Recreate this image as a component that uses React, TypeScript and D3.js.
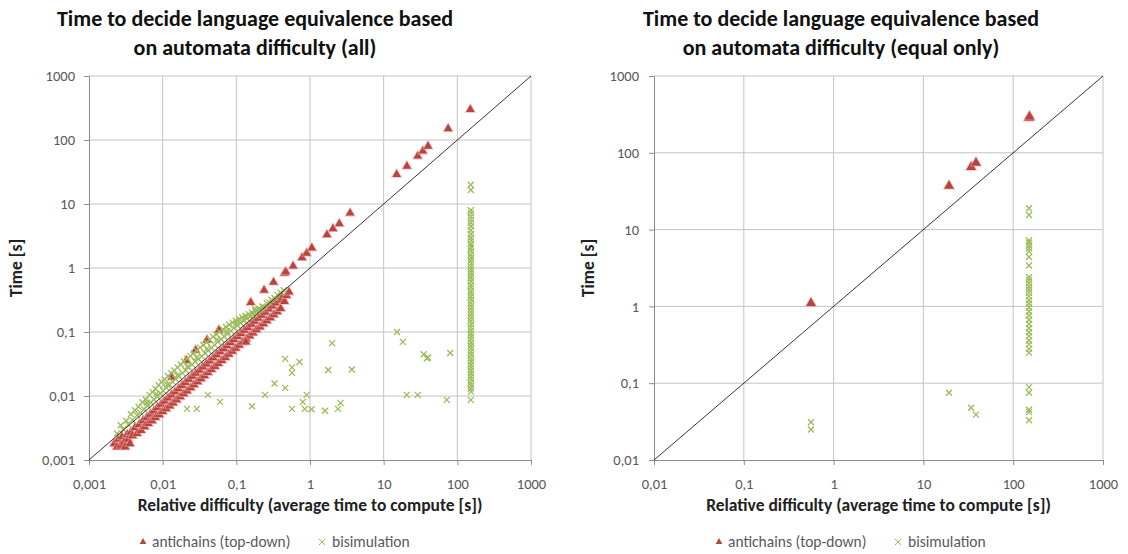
import React, { useRef, useEffect } from "react";
import * as d3 from "d3";

type Pt = [number, number];

// ---- data ----
const ticksAll = [0.001, 0.01, 0.1, 1, 10, 100, 1000];
const ticksEqual = [0.01, 0.1, 1, 10, 100, 1000];

const seriesNames = ["antichains (top-down)", "bisimulation"];

// left chart: antichains, main band under the diagonal
const antichainsAllBand: Pt[] = [
  [0.0022, 0.0018], [0.0024, 0.0016], [0.0025, 0.0021], [0.0027, 0.0017], [0.0028, 0.0023],
  [0.003, 0.0019], [0.0031, 0.0016], [0.0033, 0.0025], [0.0034, 0.0021], [0.0036, 0.0018],
  [0.0037, 0.0027], [0.0039, 0.0024], [0.0042, 0.0032], [0.0045, 0.0026], [0.0048, 0.0036],
  [0.0051, 0.0029], [0.0054, 0.0041], [0.0057, 0.0033], [0.0061, 0.0046], [0.0064, 0.0037],
  [0.0068, 0.0052], [0.0072, 0.0041], [0.0076, 0.0058], [0.008, 0.0046], [0.0085, 0.0066],
  [0.009, 0.0051], [0.0095, 0.0074], [0.01, 0.0057], [0.0106, 0.0083], [0.0112, 0.0063],
  [0.0118, 0.0093], [0.0125, 0.007], [0.0132, 0.0104], [0.0139, 0.0078], [0.0147, 0.0116],
  [0.0155, 0.0087], [0.0164, 0.013], [0.0173, 0.0097], [0.0183, 0.0146], [0.0193, 0.0108],
  [0.0204, 0.0163], [0.0215, 0.012], [0.0227, 0.0182], [0.024, 0.0134], [0.0253, 0.0203],
  [0.0267, 0.015], [0.0282, 0.0227], [0.0298, 0.0167], [0.0315, 0.0253], [0.0332, 0.0186],
  [0.0351, 0.0283], [0.037, 0.0208], [0.0391, 0.0316], [0.0413, 0.0232], [0.0436, 0.0353],
  [0.046, 0.0259], [0.0486, 0.0394], [0.0513, 0.0289], [0.0541, 0.044], [0.0571, 0.0322],
  [0.0603, 0.0491], [0.0637, 0.036], [0.0672, 0.0548], [0.071, 0.0401], [0.0749, 0.0612],
  [0.0791, 0.0448], [0.0835, 0.0683], [0.0882, 0.05], [0.0931, 0.0762], [0.0983, 0.0558],
  [0.1038, 0.085], [0.1095, 0.0623], [0.1156, 0.095], [0.1221, 0.0695], [0.1289, 0.106],
  [0.1361, 0.0776], [0.1437, 0.118], [0.1517, 0.0866], [0.16, 0.132], [0.169, 0.0967],
  [0.178, 0.147], [0.188, 0.108], [0.199, 0.164], [0.21, 0.12], [0.222, 0.183],
  [0.234, 0.134], [0.247, 0.204], [0.26, 0.15], [0.275, 0.228], [0.29, 0.167],
  [0.306, 0.254], [0.323, 0.186], [0.341, 0.283], [0.36, 0.208], [0.38, 0.316],
  [0.4, 0.232], [0.42, 0.35], [0.45, 0.3], [0.48, 0.37], [0.52, 0.42], [0.135, 0.07],
];

// left chart: antichains, slower cases above the diagonal
const antichainsAllUpper: Pt[] = [
  [0.0134, 0.0197], [0.021, 0.036], [0.028, 0.052], [0.04, 0.075], [0.058, 0.107],
  [0.157, 0.29], [0.238, 0.45], [0.32, 0.6], [0.45, 0.83], [0.47, 0.87], [0.59, 1.07],
  [0.78, 1.45], [0.9, 1.7], [1.06, 2.05], [1.7, 3.3], [2.05, 4.1], [2.5, 4.9], [3.5, 7.2],
  [15, 29], [20.7, 39], [29, 56], [34, 67], [40, 80], [75, 150], [150, 300],
];

// left chart: bisimulation band around the diagonal
const bisimulationAllBand: Pt[] = [
  [0.0024, 0.0026], [0.0027, 0.0035], [0.0029, 0.003], [0.0032, 0.0041], [0.0034, 0.0036],
  [0.0037, 0.0052], [0.0039, 0.0042], [0.0042, 0.006], [0.0045, 0.005], [0.0047, 0.0068],
  [0.005, 0.0055], [0.0053, 0.008], [0.0056, 0.0062], [0.0059, 0.0088], [0.0062, 0.0071],
  [0.0066, 0.0104], [0.0069, 0.0079], [0.0073, 0.0115], [0.0076, 0.0088], [0.008, 0.013],
  [0.0084, 0.0098], [0.0088, 0.0148], [0.0092, 0.011], [0.0097, 0.0165], [0.0102, 0.0121],
  [0.0107, 0.0182], [0.0112, 0.0135], [0.0118, 0.0205], [0.0124, 0.015], [0.013, 0.0228],
  [0.0137, 0.0166], [0.0144, 0.025], [0.0151, 0.0185], [0.0159, 0.028], [0.0167, 0.0205],
  [0.0176, 0.031], [0.0185, 0.0228], [0.0195, 0.0345], [0.0205, 0.0252], [0.0215, 0.038],
  [0.0226, 0.028], [0.0238, 0.042], [0.025, 0.031], [0.0263, 0.0465], [0.0277, 0.0345],
  [0.0291, 0.0515], [0.0306, 0.038], [0.0322, 0.057], [0.0339, 0.042], [0.0356, 0.0625],
  [0.0375, 0.0465], [0.0394, 0.069], [0.0415, 0.0515], [0.0436, 0.076], [0.0459, 0.057],
  [0.0483, 0.084], [0.0508, 0.063], [0.0534, 0.092], [0.0562, 0.07], [0.0591, 0.101],
  [0.0622, 0.077], [0.0654, 0.11], [0.0688, 0.085], [0.0724, 0.12], [0.0762, 0.094],
  [0.0802, 0.13], [0.0843, 0.104], [0.0887, 0.14], [0.0933, 0.115], [0.0982, 0.15],
  [0.1033, 0.126], [0.1087, 0.16], [0.1143, 0.138], [0.1203, 0.17], [0.1265, 0.15],
  [0.1331, 0.18], [0.14, 0.162], [0.1473, 0.19], [0.155, 0.175], [0.163, 0.2],
  [0.172, 0.19], [0.181, 0.215], [0.19, 0.205], [0.2, 0.23], [0.212, 0.225],
  [0.225, 0.25], [0.24, 0.245], [0.26, 0.28], [0.28, 0.29], [0.3, 0.32], [0.33, 0.34],
  [0.36, 0.38], [0.4, 0.41], [0.44, 0.45],
  [0.0061, 0.0078], [0.0083, 0.0108], [0.0115, 0.015], [0.0158, 0.021], [0.0215, 0.0288],
  [0.029, 0.04], [0.04, 0.055], [0.055, 0.076], [0.075, 0.103], [0.1, 0.135],
  [0.135, 0.175], [0.18, 0.23],
];

// left chart: bisimulation outliers well below the diagonal
const bisimulationAllScatter: Pt[] = [
  [0.0214, 0.0063], [0.029, 0.0063], [0.041, 0.0104], [0.06, 0.0081], [0.163, 0.0069],
  [0.245, 0.0104], [0.33, 0.0157], [0.46, 0.0134], [0.46, 0.038], [0.57, 0.028],
  [0.72, 0.034], [0.57, 0.023], [0.9, 0.0104], [0.8, 0.0081], [0.57, 0.0063],
  [0.85, 0.0063], [1.05, 0.0062], [1.6, 0.0059], [2.4, 0.0063], [2.6, 0.0078],
  [2.0, 0.067], [1.77, 0.0255], [3.7, 0.026], [15.2, 0.1], [18.2, 0.07], [35, 0.045],
  [38.6, 0.039], [40, 0.04], [80, 0.047], [20.6, 0.0104], [29, 0.0104], [72, 0.0087],
];

// left chart: bisimulation column of the hardest automata
const bisimulationAllColumn: Pt[] = [
  [152, 20], [153, 16.5], [152, 8], [153, 7.2], [152, 6.4], [153, 5.7], [152, 5.1],
  [153, 4.5], [152, 3.9], [153, 3.4], [152, 3], [153, 2.7], [152, 2.4], [153, 2.2],
  [152, 2], [153, 1.8], [152, 1.6], [153, 1.45], [152, 1.3], [153, 1.17], [152, 1.05],
  [153, 0.95], [152, 0.86], [153, 0.77], [152, 0.69], [153, 0.62], [152, 0.55],
  [153, 0.5], [152, 0.44], [153, 0.4], [152, 0.355], [153, 0.32], [152, 0.285],
  [153, 0.255], [152, 0.23], [153, 0.205], [152, 0.185], [153, 0.165], [152, 0.148],
  [153, 0.132], [152, 0.118], [153, 0.106], [152, 0.095], [153, 0.085], [152, 0.076],
  [153, 0.068], [152, 0.061], [153, 0.055], [152, 0.049], [153, 0.044], [152, 0.039],
  [153, 0.035], [152, 0.031], [153, 0.028], [152, 0.025], [153, 0.0225], [152, 0.02],
  [153, 0.018], [152, 0.016], [153, 0.0145], [152, 0.013], [153, 0.0117], [152, 0.0087],
];

// right chart (equal only)
const antichainsEqual: Pt[] = [
  [0.56, 1.1], [19.3, 37], [34, 65], [38.5, 74], [150, 285], [152, 295],
];

const bisimulationEqual: Pt[] = [
  [0.56, 0.031], [0.56, 0.025], [19.3, 0.075], [34, 0.048], [38.5, 0.039],
  [150, 19], [150, 15.5], [150, 7.3], [150, 6.8], [150, 6.2], [150, 5.7], [150, 5.2],
  [150, 4.4], [150, 3.4], [150, 2.4], [150, 2.2], [150, 2], [150, 1.8], [150, 1.65],
  [150, 1.5], [150, 1.35], [150, 1.2], [150, 1.08], [150, 0.97], [150, 0.86],
  [150, 0.76], [150, 0.67], [150, 0.59], [150, 0.52], [150, 0.46], [150, 0.41],
  [150, 0.36], [150, 0.32], [150, 0.28], [150, 0.25], [150, 0.089], [150, 0.075],
  [150, 0.045], [150, 0.042], [150, 0.033],
];

const FONT = "Carlito, Lato, 'Open Sans', sans-serif";
const RED = "#B9433F";
const GREEN = "#9BBB59";

const fmt = (d: number) => String(d).replace(".", ",");

function drawChart(g: any, cfg: any) {
  const { ticks, left, right, top, bottom } = cfg;
  const x = d3.scaleLog().domain([ticks[0], ticks[ticks.length - 1]]).range([left, right]);
  const y = d3.scaleLog().domain([ticks[0], ticks[ticks.length - 1]]).range([bottom, top]);

  // titles
  cfg.title.forEach((t: string, i: number) => {
    g.append("text")
      .attr("x", cfg.titleX)
      .attr("y", 26 + i * 29)
      .attr("text-anchor", "middle")
      .attr("font-family", FONT)
      .attr("font-weight", "bold")
      .attr("font-size", 22)
      .attr("fill", "#111")
      .text(t);
  });

  // grid
  const grid = g.append("g").attr("stroke", "#C4C4C4").attr("stroke-width", 1);
  grid.selectAll(".v").data(ticks.slice(1)).join("line")
    .attr("x1", (d: number) => x(d)).attr("x2", (d: number) => x(d))
    .attr("y1", top).attr("y2", bottom);
  grid.selectAll(".h").data(ticks.slice(1)).join("line")
    .attr("x1", left).attr("x2", right)
    .attr("y1", (d: number) => y(d)).attr("y2", (d: number) => y(d));

  // axes
  const xAxis = g.append("g").attr("transform", `translate(0,${bottom})`)
    .call(d3.axisBottom(x).tickValues(ticks).tickFormat(fmt as any).tickSize(5).tickPadding(14));
  const yAxis = g.append("g").attr("transform", `translate(${left},0)`)
    .call(d3.axisLeft(y).tickValues(ticks).tickFormat(fmt as any).tickSize(5).tickPadding(cfg.yPad));
  [xAxis, yAxis].forEach((a) => {
    a.select(".domain").attr("stroke", "#8C8C8C");
    a.selectAll(".tick line").attr("stroke", "#8C8C8C");
    a.selectAll("text").attr("font-family", FONT).attr("font-size", 14.5).attr("fill", "#595959");
  });

  // axis titles
  g.append("text")
    .attr("x", (left + right) / 2).attr("y", 511)
    .attr("text-anchor", "middle")
    .attr("font-family", FONT).attr("font-weight", "bold").attr("font-size", 17.5).attr("fill", "#222")
    .text("Relative difficulty (average time to compute [s])");
  g.append("text")
    .attr("transform", `translate(${cfg.yTitleX},${(top + bottom) / 2}) rotate(-90)`)
    .attr("text-anchor", "middle")
    .attr("font-family", FONT).attr("font-weight", "bold").attr("font-size", 17.5).attr("fill", "#222")
    .text("Time [s]");

  const tri = d3.symbol(d3.symbolTriangle, cfg.triSize)();
  const cross = "M-3,-3L3,3M3,-3L-3,3";

  // antichains
  g.append("g").selectAll("path").data(cfg.antichains).join("path")
    .attr("d", tri)
    .attr("transform", (d: Pt) => `translate(${x(d[0])},${y(d[1])})`)
    .attr("fill", RED)
    .attr("stroke", "#E9A3A1").attr("stroke-opacity", 0.7).attr("stroke-width", 1.6)
    .attr("paint-order", "stroke");

  // bisimulation
  g.append("g").selectAll("path").data(cfg.bisimulation).join("path")
    .attr("d", cross)
    .attr("transform", (d: Pt) => `translate(${x(d[0])},${y(d[1])})`)
    .attr("fill", "none")
    .attr("stroke", GREEN).attr("stroke-width", 1.3);

  // diagonal y = x
  g.append("line")
    .attr("x1", x(ticks[0])).attr("y1", y(ticks[0]))
    .attr("x2", x(ticks[ticks.length - 1])).attr("y2", y(ticks[ticks.length - 1]))
    .attr("stroke", "#000").attr("stroke-width", 0.8);

  // legend
  const lg = g.append("g").attr("font-family", FONT).attr("font-size", 15.5).attr("fill", "#595959");
  const ly = 542;
  lg.append("path").attr("d", d3.symbol(d3.symbolTriangle, 20)())
    .attr("transform", `translate(${cfg.legendX},${ly})`).attr("fill", RED);
  lg.append("text").attr("x", cfg.legendX + 9).attr("y", ly + 5).text(seriesNames[0]);
  lg.append("path").attr("d", "M-3,-3L3,3M3,-3L-3,3")
    .attr("transform", `translate(${cfg.legendX + 179},${ly})`)
    .attr("stroke", GREEN).attr("stroke-width", 1).attr("fill", "none");
  lg.append("text").attr("x", cfg.legendX + 189).attr("y", ly + 5).text(seriesNames[1]);
}

export default function App() {
  const svgRef = useRef<SVGSVGElement | null>(null);

  useEffect(() => {
    const svg = d3.select(svgRef.current);
    svg.selectAll("*").remove();

    drawChart(svg.append("g"), {
      ticks: ticksAll, left: 89, right: 531, top: 76, bottom: 460,
      title: ["Time to decide language equivalence based", "on automata difficulty (all)"],
      titleX: 255, yTitleX: 22, yPad: 9, legendX: 143, triSize: 32,
      antichains: [...antichainsAllBand, ...antichainsAllUpper],
      bisimulation: [...bisimulationAllBand, ...bisimulationAllScatter, ...bisimulationAllColumn],
    });
    drawChart(svg.append("g"), {
      ticks: ticksEqual, left: 654, right: 1103, top: 76, bottom: 460,
      title: ["Time to decide language equivalence based", "on automata difficulty (equal only)"],
      titleX: 841, yTitleX: 594, yPad: 10, legendX: 719, triSize: 42,
      antichains: antichainsEqual,
      bisimulation: bisimulationEqual,
    });
  }, []);

  return (
    <svg
      ref={svgRef}
      width={1128}
      height={554}
      style={{ position: "absolute", left: 0, top: 0, background: "#fff" }}
    />
  );
}
